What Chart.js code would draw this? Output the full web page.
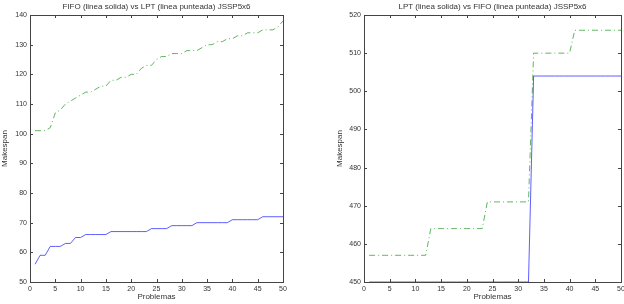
<!DOCTYPE html>
<html>
<head>
<meta charset="utf-8">
<script src="https://cdn.jsdelivr.net/npm/chart.js@4/dist/chart.umd.min.js"></script>
<style>
  html, body { margin: 0; padding: 0; background: #fff; }
  #wrap { position: relative; width: 624px; height: 304px; overflow: hidden; }
  .box { position: absolute; top: 0; width: 312px; height: 304px; }
</style>
</head>
<body>
<div id="wrap">
  <div class="box" style="left:0"><canvas id="chartA"></canvas></div>
  <div class="box" style="left:312px"><canvas id="chartB"></canvas></div>
</div>
<script>
// eje x comun: numero de problema
const problemas = [1, 2, 3, 4, 5, 6, 7, 8, 9, 10, 11, 12, 13, 14, 15, 16, 17, 18, 19, 20,
  21, 22, 23, 24, 25, 26, 27, 28, 29, 30, 31, 32, 33, 34, 35, 36, 37, 38, 39, 40,
  41, 42, 43, 44, 45, 46, 47, 48, 49, 50];
const xTicks = [0, 5, 10, 15, 20, 25, 30, 35, 40, 45, 50];

// grafica izquierda: FIFO (solida) vs LPT (punteada)
const fifoA = [56, 59, 59, 62, 62, 62, 63, 63, 65, 65, 66, 66, 66, 66, 66, 67, 67, 67, 67, 67,
  67, 67, 67, 68, 68, 68, 68, 69, 69, 69, 69, 69, 70, 70, 70, 70, 70, 70, 70, 71,
  71, 71, 71, 71, 71, 72, 72, 72, 72, 72];
const lptA = [101, 101, 101, 102, 107, 108, 110, 111, 112, 113, 114, 114, 115, 116, 116, 118, 118, 119, 119, 120,
  120, 122, 123, 123, 125, 126, 126, 127, 127, 127, 128, 128, 128, 129, 130, 130, 131, 131, 132, 132,
  133, 133, 134, 134, 134, 135, 135, 135, 136, 138];
const yTicksA = [50, 60, 70, 80, 90, 100, 110, 120, 130, 140];

// grafica derecha: LPT (solida) vs FIFO (punteada)
const lptB = [450, 450, 450, 450, 450, 450, 450, 450, 450, 450, 450, 450, 450, 450, 450, 450, 450, 450, 450, 450,
  450, 450, 450, 450, 450, 450, 450, 450, 450, 450, 450, 450, 504, 504, 504, 504, 504, 504, 504, 504,
  504, 504, 504, 504, 504, 504, 504, 504, 504, 504];
const fifoB = [457, 457, 457, 457, 457, 457, 457, 457, 457, 457, 457, 457, 464, 464, 464, 464, 464, 464, 464, 464,
  464, 464, 464, 471, 471, 471, 471, 471, 471, 471, 471, 471, 510, 510, 510, 510, 510, 510, 510, 510,
  516, 516, 516, 516, 516, 516, 516, 516, 516, 516];
const yTicksB = [450, 460, 470, 480, 490, 500, 510, 520];

const FONT = "'Liberation Sans', Arial, sans-serif";
const BLUE = 'rgba(40, 40, 255, 0.75)';
const GREEN = 'rgba(30, 150, 30, 0.7)';

// caja estilo matlab con marcas hacia adentro en los cuatro lados
const matlabBox = {
  id: 'matlabBox',
  afterDatasetsDraw(chart) {
    const { ctx, chartArea: a, scales } = chart;
    ctx.save();
    ctx.strokeStyle = '#444';
    ctx.lineWidth = 1;
    ctx.strokeRect(Math.round(a.left) + 0.5, Math.round(a.top) + 0.5,
      Math.round(a.right - a.left), Math.round(a.bottom - a.top));
    ctx.beginPath();
    scales.x.ticks.forEach(t => {
      const px = Math.round(scales.x.getPixelForValue(t.value)) + 0.5;
      ctx.moveTo(px, a.bottom); ctx.lineTo(px, a.bottom - 3);
      ctx.moveTo(px, a.top); ctx.lineTo(px, a.top + 3);
    });
    scales.y.ticks.forEach(t => {
      const py = Math.round(scales.y.getPixelForValue(t.value)) + 0.5;
      ctx.moveTo(a.left, py); ctx.lineTo(a.left + 3, py);
      ctx.moveTo(a.right, py); ctx.lineTo(a.right - 3, py);
    });
    ctx.stroke();
    ctx.restore();
  }
};

function pts(values) {
  return values.map((v, i) => ({ x: problemas[i], y: v }));
}

function makeChart(id, titleText, solid, dashed, yTicks, opt) {
  const ctx = document.getElementById(id).getContext('2d');
  return new Chart(ctx, {
    type: 'line',
    data: {
      datasets: [
        { data: pts(solid), borderColor: BLUE, borderWidth: 1, pointRadius: 0, tension: 0 },
        { data: pts(dashed), borderColor: GREEN, borderWidth: 1, pointRadius: 0, tension: 0,
          borderDash: [6, 3, 1, 3] }
      ]
    },
    options: {
      responsive: true,
      maintainAspectRatio: false,
      animation: false,
      layout: { padding: { left: opt.padLeft, right: opt.padRight, top: 0, bottom: 2 } },
      plugins: {
        legend: { display: false },
        tooltip: { enabled: false },
        title: {
          display: true, text: titleText, fullSize: false, color: '#333',
          font: { family: FONT, size: 8, weight: 'normal' },
          padding: { top: 2, bottom: 3.4 }
        }
      },
      scales: {
        x: {
          type: 'linear', min: 0, max: 50,
          grid: { display: false, drawTicks: false },
          border: { display: false },
          afterBuildTicks: s => { s.ticks = xTicks.map(v => ({ value: v })); },
          afterFit: s => { s.height = 20; s.paddingLeft = 0; s.paddingRight = 0; },
          ticks: { color: '#333', font: { family: FONT, size: 7 }, padding: 3, maxRotation: 0 },
          title: { display: true, text: 'Problemas', color: '#333', font: { family: FONT, size: 8 }, padding: 0 }
        },
        y: {
          min: yTicks[0], max: yTicks[yTicks.length - 1],
          grid: { display: false, drawTicks: false },
          border: { display: false },
          afterBuildTicks: s => { s.ticks = yTicks.map(v => ({ value: v })); },
          afterFit: s => { s.width = opt.yWidth; },
          ticks: { color: '#333', font: { family: FONT, size: 7 }, padding: 3 },
          title: { display: true, text: 'Makespan', color: '#333', font: { family: FONT, size: 8 }, padding: 0 }
        }
      }
    },
    plugins: [matlabBox]
  });
}

makeChart('chartA', 'FIFO (linea solida) vs LPT (linea punteada) JSSP5x6', fifoA, lptA, yTicksA,
  { padLeft: 0, padRight: 29, yWidth: 30 });
makeChart('chartB', 'LPT (linea solida) vs FIFO (linea punteada) JSSP5x6', lptB, fifoB, yTicksB,
  { padLeft: 23, padRight: 3, yWidth: 29 });
</script>
</body>
</html>
